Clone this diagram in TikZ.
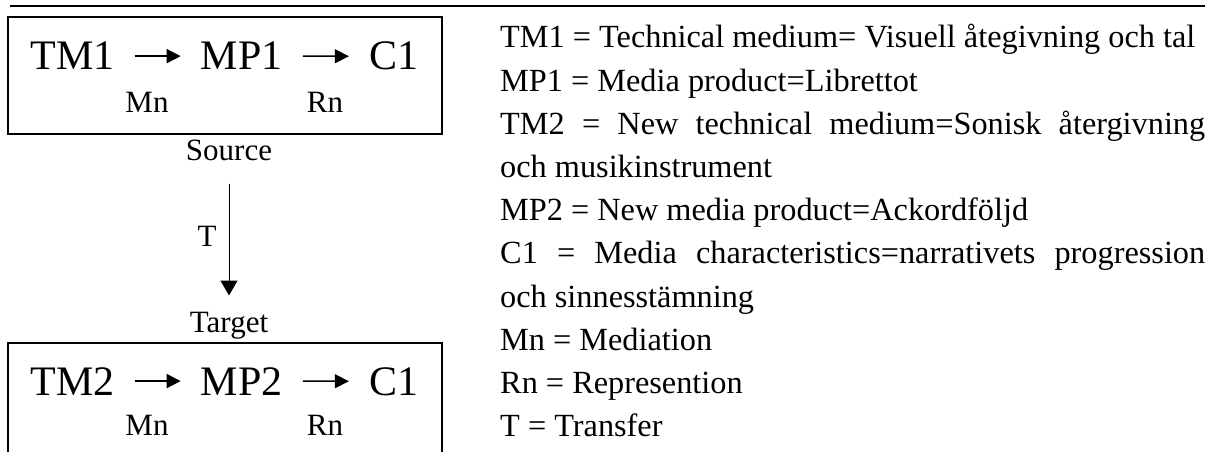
\documentclass[tikz,border=0pt]{standalone}
\usepackage{fontspec}
\setmainfont{Liberation Serif}
\usetikzlibrary{arrows.meta}
\usetikzlibrary{positioning}
\tikzset{
  medium/.style={inner sep=0pt, anchor=base, font=\fontsize{42}{50}\selectfont},
  role/.style={inner sep=0pt, anchor=base, font=\fontsize{31}{37}\selectfont},
  boxline/.style={draw, line width=1.5pt},
  link/.style={-{Triangle[length=14pt,width=14pt]}, line width=1.5pt, shorten <=20pt, shorten >=20pt},
  transfer/.style={-{Triangle[length=15pt,width=17pt]}, line width=1pt, shorten <=23pt, shorten >=16pt},
  legend/.style={anchor=base west, inner sep=0pt, text width=705pt, align=justify, font=\fontsize{32.3}{43.2}\selectfont}
}

\begin{document}
\begin{tikzpicture}[x=1pt, y=-1pt]
                    \useasboundingbox (0,0) rectangle (1209,452);
                    \draw[line width=2pt] (10,6) -- (1205,6);
                    \draw[boxline] (8,17) rectangle (442,134);
                    \node[medium] (tm1) at (72.5,70) {TM1};
                    \node[medium, base right=86pt of tm1] (mp1) {MP1};
                    \node[medium, base right=86pt of mp1] (c1) {C1};
                    \draw[link] (tm1) -- (mp1);
                    \draw[link] (mp1) -- (c1);
                    \node[role] (mn1) at (147,112) {Mn};
                    \node[role] (rn1) at (325,112) {Rn};
                    \node[role] (source) at (229,160) {Source};
                    \node[role] (target) at (229,332) {Target};
                    \draw[transfer] (source) -- node[role, midway, left=12pt] (t) {T} (target);
                    \draw[boxline] (8,452) |- (442,343) -- (442,452);
                    \node[medium] (tm2) at (72.5,395) {TM2};
                    \node[medium, base right=86pt of tm2] (mp2) {MP2};
                    \node[medium, base right=86pt of mp2] (c2) {C1};
                    \draw[link] (tm2) -- (mp2);
                    \draw[link] (mp2) -- (c2);
                    \node[role] (mn2) at (147,435) {Mn};
                    \node[role] (rn2) at (325,435) {Rn};
                    \node[legend] (key) at (500,48) {TM1 = Technical medium= Visuell åtegivning och tal\par
                      MP1 = Media product=Librettot\par
                      TM2 = New technical medium=Sonisk återgivning\linebreak och musikinstrument\par
                      MP2 = New media product=Ackordföljd\par
                      C1 = Media characteristics=narrativets progression\linebreak och sinnesstämning\par
                      Mn = Mediation\par
                      Rn = Represention\par
                      T = Transfer};
                \end{tikzpicture}
\end{document}
